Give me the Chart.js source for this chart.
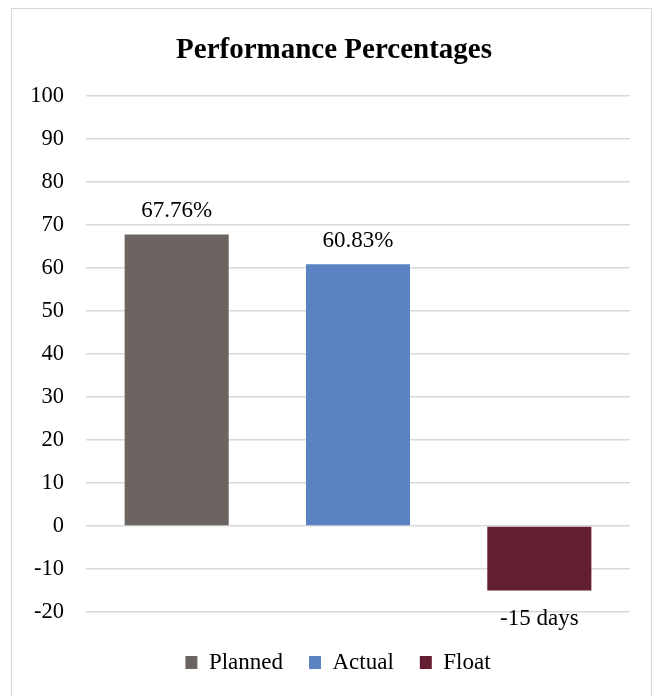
<!DOCTYPE html>
<html>
<head>
<meta charset="utf-8">
<script src="https://cdn.jsdelivr.net/npm/chart.js@4"></script>
<style>
  html, body { margin: 0; padding: 0; background: #fff; }
  #wrap { position: relative; width: 661px; height: 696px; }
</style>
</head>
<body>
<div id="wrap"><canvas id="grafico" width="661" height="696"></canvas></div>
<script>
const categorias = ['Planned', 'Actual', 'Float'];
const valores = [67.76, 60.83, -15];
const rotulos = ['67.76%', '60.83%', '-15 days'];
const cores = ['#6c6461', '#5b82c1', '#641e31'];
const yTicks = [-20, -10, 0, 10, 20, 30, 40, 50, 60, 70, 80, 90, 100];

const serif = "'Liberation Serif', 'Times New Roman', serif";

// moldura cinza em volta do grafico
const moldura = {
  id: 'moldura',
  beforeDraw(chart) {
    const c = chart.ctx;
    c.save();
    c.strokeStyle = '#d9d9d9';
    c.lineWidth = 1;
    c.strokeRect(11.5, 8.5, 640, 720);
    c.restore();
  }
};

// empurra titulo e legenda um pouco pra direita
const ajuste = {
  id: 'ajuste',
  afterLayout(chart) {
    if (chart.titleBlock) {
      chart.titleBlock.left += 9;
      chart.titleBlock.right += 9;
    }
    if (chart.legend) {
      chart.legend.left += 13;
      chart.legend.right += 13;
    }
  }
};

// rotulos de valor em cima / embaixo das barras
const rotulosBarras = {
  id: 'rotulosBarras',
  afterDatasetsDraw(chart) {
    const c = chart.ctx;
    c.save();
    c.font = '23px ' + serif;
    c.fillStyle = '#000';
    c.textAlign = 'center';
    c.textBaseline = 'alphabetic';
    chart.data.datasets.forEach((ds, i) => {
      const bar = chart.getDatasetMeta(i).data[0];
      const v = ds.data[0];
      if (v >= 0) {
        c.fillText(rotulos[i], bar.x, bar.y - 17);
      } else {
        c.fillText(rotulos[i], bar.x, bar.y + 35);
      }
    });
    c.restore();
  }
};

const ctx = document.getElementById('grafico').getContext('2d');

const grafico = new Chart(ctx, {
  type: 'bar',
  data: {
    labels: [''],
    datasets: categorias.map((nome, i) => ({
      label: nome,
      data: [valores[i]],
      backgroundColor: cores[i],
      barPercentage: 0.574,
      categoryPercentage: 1
    }))
  },
  options: {
    responsive: false,
    animation: false,
    layout: { padding: { left: 20, right: 31, top: 18, bottom: 12 } },
    plugins: {
      title: {
        display: true,
        text: 'Performance Percentages',
        color: '#000',
        font: { family: serif, size: 29, weight: 'bold' },
        padding: { top: 15, bottom: 28 }
      },
      legend: {
        position: 'bottom',
        labels: {
          color: '#000',
          boxWidth: 12,
          boxHeight: 13,
          padding: 26,
          font: { family: serif, size: 23 }
        }
      },
      tooltip: { enabled: false }
    },
    scales: {
      x: {
        display: true,
        grid: { display: false },
        border: { display: false },
        ticks: { display: false },
        afterFit(scale) { scale.height = 13; }
      },
      y: {
        min: -20,
        max: 100,
        afterBuildTicks(scale) {
          scale.ticks = yTicks.map(v => ({ value: v }));
        },
        afterFit(scale) { scale.width = 66; },
        border: { display: false },
        grid: { color: '#d9d9d9', lineWidth: 1.5, drawTicks: false },
        ticks: {
          color: '#000',
          padding: 22,
          font: { family: serif, size: 22.5 }
        }
      }
    }
  },
  plugins: [moldura, ajuste, rotulosBarras]
});
</script>
</body>
</html>
